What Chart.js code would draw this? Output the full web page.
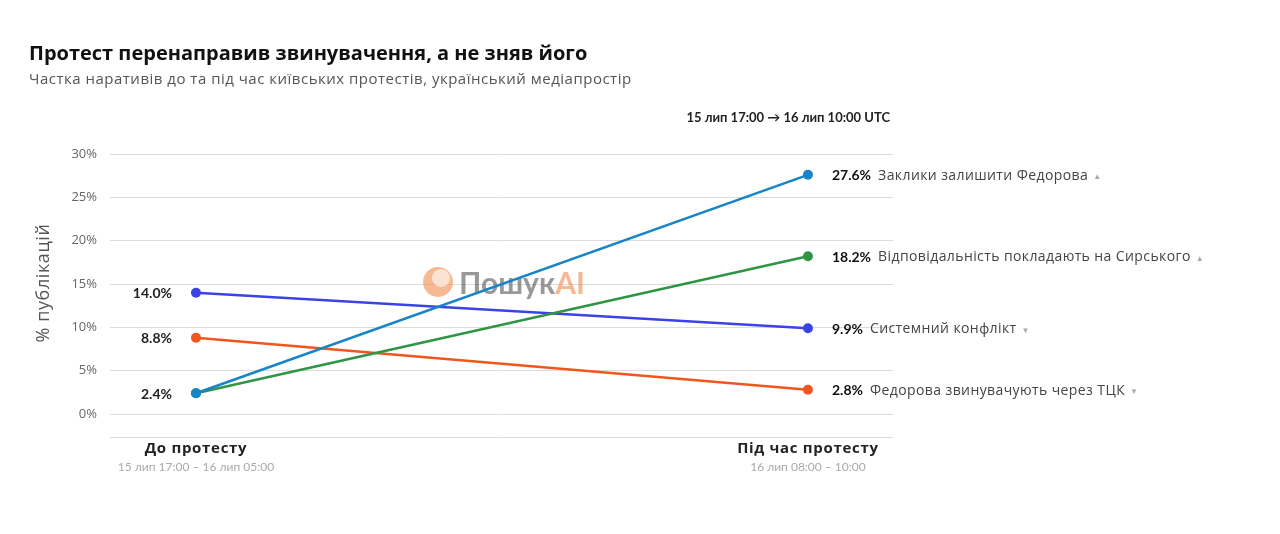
<!DOCTYPE html>
<html>
<head>
<meta charset="utf-8">
<script src="https://cdn.jsdelivr.net/npm/chart.js@4.4.1/dist/chart.umd.min.js"></script>
<style>
  html, body { margin: 0; padding: 0; background: #fff; }
  #wrap { position: relative; width: 1280px; height: 534px; }
</style>
</head>
<body>
<div id="wrap"><canvas id="chart" width="1280" height="534"></canvas></div>
<script>
const periods = ["До протесту", "Під час протесту"];
const periodRanges = ["15 лип 17:00 – 16 лип 05:00", "16 лип 08:00 – 10:00"];
const narratives = [
  "Заклики залишити Федорова",
  "Відповідальність покладають на Сирського",
  "Системний конфлікт",
  "Федорова звинувачують через ТЦК",
];
const beforeValues = [2.4, 2.4, 14.0, 8.8];
const duringValues = [27.6, 18.2, 9.9, 2.8];
const colors = ["#1685c8", "#2f9545", "#3a43e6", "#f0561d"];
const yTicks = [0, 5, 10, 15, 20, 25, 30];

const NUM_FONT = "Lato, sans-serif";
const TXT_FONT = "'Open Sans', 'Noto Sans', sans-serif";

const datasets = narratives.map((name, i) => ({
  label: name,
  data: [
    { x: 0, y: beforeValues[i] },
    { x: 1, y: duringValues[i] },
  ],
  borderColor: colors[i],
  backgroundColor: colors[i],
  borderWidth: 2.5,
  pointRadius: 5,
  pointHoverRadius: 5,
  pointBorderWidth: 0,
}));

// text, labels, watermark
const annotations = {
  id: "annotations",
  beforeDatasetsDraw(chart) {
    const ctx = chart.ctx;
    // watermark
    ctx.save();
    ctx.globalAlpha = 0.6;
    ctx.fillStyle = "#f08a4b";
    ctx.beginPath();
    ctx.arc(438, 282, 15, 0, Math.PI * 2);
    ctx.fill();
    ctx.fillStyle = "#fff";
    ctx.beginPath();
    ctx.arc(441, 278, 9, 0, Math.PI * 2);
    ctx.fill();
    ctx.font = "bold 30px " + NUM_FONT;
    ctx.textBaseline = "middle";
    ctx.fillStyle = "#555";
    ctx.fillText("Пошук", 459, 284);
    const w = ctx.measureText("Пошук").width;
    ctx.fillStyle = "#f08a4b";
    ctx.fillText("AI", 459 + w, 284);
    ctx.restore();
  },
  afterDraw(chart) {
    const ctx = chart.ctx;
    const xs = chart.scales.x;
    const ys = chart.scales.y;
    ctx.save();
    ctx.textBaseline = "middle";

    // title + subtitle
    ctx.fillStyle = "#111";
    ctx.font = "bold 20px " + TXT_FONT;
    ctx.textAlign = "left";
    ctx.fillText("Протест перенаправив звинувачення, а не зняв його", 29, 54);
    ctx.fillStyle = "#555";
    ctx.font = "15px " + TXT_FONT;
    ctx.letterSpacing = "0.5px";
    ctx.fillText("Частка наративів до та під час київських протестів, український медіапростір", 29, 80);
    ctx.letterSpacing = "0px";

    // time window note
    ctx.fillStyle = "#222";
    ctx.font = "bold 13px " + NUM_FONT;
    ctx.textAlign = "right";
    ctx.fillText("15 лип 17:00 → 16 лип 10:00 UTC", 890, 118);

    // y axis title
    ctx.save();
    ctx.translate(44, 283);
    ctx.rotate(-Math.PI / 2);
    ctx.textAlign = "center";
    ctx.fillStyle = "#555";
    ctx.font = "18px " + TXT_FONT;
    ctx.letterSpacing = "0.6px";
    ctx.fillText("% публікацій", 0, 0);
    ctx.restore();

    // x category labels
    periods.forEach((p, i) => {
      const px = xs.getPixelForValue(i);
      ctx.textAlign = "center";
      ctx.fillStyle = "#222";
      ctx.font = "bold 15px " + TXT_FONT;
      ctx.letterSpacing = "0.7px";
      ctx.fillText(p, px, 449);
      ctx.letterSpacing = "0px";
      ctx.fillStyle = "#aaa";
      ctx.font = "12px " + NUM_FONT;
      ctx.fillText(periodRanges[i], px, 467);
    });

    // left value labels (deduplicated)
    const seen = new Set();
    ctx.textAlign = "right";
    ctx.fillStyle = "#222";
    ctx.font = "bold 14px " + NUM_FONT;
    beforeValues.forEach((v) => {
      const t = v.toFixed(1) + "%";
      if (seen.has(t)) return;
      seen.add(t);
      ctx.fillText(t, 172, ys.getPixelForValue(v) + 1);
    });

    // right labels
    ctx.textAlign = "left";
    duringValues.forEach((v, i) => {
      const py = ys.getPixelForValue(v) + 1;
      const vx = xs.getPixelForValue(1) + 24;
      const t = v.toFixed(1) + "%";
      ctx.fillStyle = "#111";
      ctx.font = "bold 14px " + NUM_FONT;
      ctx.fillText(t, vx, py);
      const w1 = ctx.measureText(t).width;
      ctx.fillStyle = "#444";
      ctx.font = "14px " + TXT_FONT;
      ctx.letterSpacing = "0.4px";
      ctx.fillText(narratives[i], vx + w1 + 7, py);
      const w2 = ctx.measureText(narratives[i]).width;
      ctx.letterSpacing = "0px";
      ctx.fillStyle = "#aaa";
      ctx.font = "8px " + NUM_FONT;
      ctx.fillText(v >= beforeValues[i] ? "▲" : "▼", vx + w1 + 7 + w2 + 5, py + 1);
    });
    ctx.restore();
  },
};

new Chart(document.getElementById("chart"), {
  type: "line",
  data: { datasets },
  options: {
    responsive: false,
    animation: false,
    events: [],
    layout: { padding: { left: 0, top: 154, right: 387, bottom: 97 } },
    plugins: { legend: { display: false }, tooltip: { enabled: false } },
    scales: {
      x: {
        type: "linear",
        min: -0.1405,
        max: 1.139,
        display: false,
      },
      y: {
        min: -2.65,
        max: 30,
        border: { display: false },
        grid: { color: "#dcdcdc", lineWidth: 1, drawTicks: false },
        afterBuildTicks: (scale) => {
          scale.ticks = [{ value: scale.min }].concat(yTicks.map((v) => ({ value: v })));
        },
        afterFit: (scale) => { scale.width = 110; },
        ticks: {
          padding: 13,
          color: "#666",
          font: { family: TXT_FONT, size: 13 },
          callback: (v) => (v < 0 ? "" : v + "%"),
        },
      },
    },
  },
  plugins: [annotations],
});
</script>
</body>
</html>
